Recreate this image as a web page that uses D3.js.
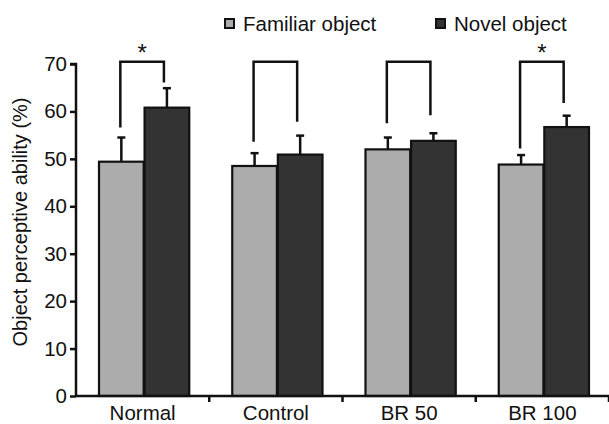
<!DOCTYPE html>
<html>
<head>
<meta charset="utf-8">
<script src="https://cdn.jsdelivr.net/npm/d3@7"></script>
<style>
  body { margin: 0; background: #fff; }
  text { font-family: "Liberation Sans", Arial, sans-serif; fill: #111; }
</style>
</head>
<body>
<svg id="chart" width="609" height="424"></svg>
<script>
const groups = ["Normal", "Control", "BR 50", "BR 100"];
const seriesNames = ["Familiar object", "Novel object"];
const familiar = [49.4, 48.5, 52.0, 48.8];
const familiarErr = [5.1, 2.7, 2.5, 2.0];
const novel = [60.8, 50.9, 53.8, 56.7];
const novelErr = [4.1, 4.0, 1.6, 2.4];
// bracket line ends (in %) and top, plus significance marks
const bracketLeft = [56.6, 53.6, 57.5, 52.2];
const bracketRight = [66.1, 57.8, 59.2, 61.8];
const bracketTop = 70.5;
const significant = ["*", "", "", "*"];
const yTicks = [0, 10, 20, 30, 40, 50, 60, 70];

const colors = ["#acacac", "#333333"];
const fs = 20.5;

const svg = d3.select("#chart");
const margin = {top: 64, right: 0, bottom: 28, left: 76};
const width = +svg.attr("width") - margin.left - margin.right;
const height = +svg.attr("height") - margin.top - margin.bottom;
const g = svg.append("g").attr("transform", `translate(${margin.left}, ${margin.top})`);

const x0 = d3.scaleBand().domain(groups).range([0, width]).padding(0);
const x1 = d3.scaleBand().domain(seriesNames)
  .range([23, x0.bandwidth() - 20]).paddingInner(0.02);
const y = d3.scaleLinear().domain([0, 70]).range([height, 0]);

const rows = groups.map((grp, i) => ({
  grp: grp,
  vals: [
    {s: seriesNames[0], v: familiar[i], e: familiarErr[i]},
    {s: seriesNames[1], v: novel[i], e: novelErr[i]}
  ]
}));

// error bars (drawn first so the bars cover the lower half)
const cap = 4;
rows.forEach(r => {
  r.vals.forEach((d, j) => {
    const cx = x0(r.grp) + x1(d.s) + x1.bandwidth() / 2;
    g.append("line")
      .attr("x1", cx).attr("x2", cx)
      .attr("y1", y(d.v)).attr("y2", y(d.v + d.e))
      .attr("stroke", "#111").attr("stroke-width", 2.5);
    g.append("line")
      .attr("x1", cx - cap).attr("x2", cx + cap)
      .attr("y1", y(d.v + d.e)).attr("y2", y(d.v + d.e))
      .attr("stroke", "#111").attr("stroke-width", 2.5);
  });
});

// bars
g.selectAll(".grp")
  .data(rows)
  .join("g")
  .attr("transform", d => `translate(${x0(d.grp)},0)`)
  .selectAll("rect")
  .data(d => d.vals)
  .join("rect")
  .attr("x", d => x1(d.s))
  .attr("y", d => y(d.v))
  .attr("width", x1.bandwidth())
  .attr("height", d => y(0) - y(d.v))
  .attr("fill", (d, j) => colors[j])
  .attr("stroke", "#111")
  .attr("stroke-width", 2.2);

// significance brackets
groups.forEach((grp, i) => {
  const lx = x0(grp) + x1(seriesNames[0]) + x1.bandwidth() / 2 - 1;
  const rx = x0(grp) + x1(seriesNames[1]) + x1.bandwidth() / 2 - 3;
  g.append("path")
    .attr("d", `M${lx},${y(bracketLeft[i])}V${y(bracketTop)}H${rx}V${y(bracketRight[i])}`)
    .attr("fill", "none")
    .attr("stroke", "#111")
    .attr("stroke-width", 2.5);
  if (significant[i]) {
    g.append("text")
      .attr("x", (lx + rx) / 2)
      .attr("y", y(bracketTop) - 1)
      .attr("text-anchor", "middle")
      .attr("font-size", 24)
      .text(significant[i]);
  }
});

// y axis
const yAxis = g.append("g")
  .call(d3.axisLeft(y).tickValues(yTicks).tickSize(6).tickPadding(3));
yAxis.select(".domain").attr("stroke", "#111").attr("stroke-width", 2.5)
  .attr("d", `M-6,${y(70)}H0V${y(0)}`);
yAxis.selectAll(".tick line").attr("stroke", "#111").attr("stroke-width", 2.5);
yAxis.selectAll(".tick text").attr("font-size", fs).attr("fill", "#111")
  .attr("font-family", "Liberation Sans, Arial, sans-serif");

// x axis
const xAxis = g.append("g")
  .attr("transform", `translate(0, ${height})`)
  .call(d3.axisBottom(x0).tickSize(0).tickPadding(9));
xAxis.select(".domain").attr("stroke", "#111").attr("stroke-width", 2.5)
  .attr("d", `M0,0H${width}`);
xAxis.selectAll(".tick text").attr("font-size", fs).attr("fill", "#111")
  .attr("font-family", "Liberation Sans, Arial, sans-serif");
xAxis.selectAll(".sep")
  .data(groups)
  .join("line")
  .attr("class", "sep")
  .attr("x1", d => x0(d) + x0.bandwidth()).attr("x2", d => x0(d) + x0.bandwidth())
  .attr("y1", 0).attr("y2", 6)
  .attr("stroke", "#111").attr("stroke-width", 2.5);

// y label
svg.append("text")
  .attr("transform", `translate(27, 222) rotate(-90)`)
  .attr("text-anchor", "middle")
  .attr("font-size", 20)
  .text("Object perceptive ability (%)");

// legend
const legendX = [224, 435];
seriesNames.forEach((name, j) => {
  svg.append("rect")
    .attr("x", legendX[j] + 1).attr("y", 19)
    .attr("width", 9).attr("height", 9)
    .attr("fill", colors[j])
    .attr("stroke", "#111").attr("stroke-width", 2);
  svg.append("text")
    .attr("x", legendX[j] + 19).attr("y", 31)
    .attr("font-size", fs)
    .text(name);
});
</script>
</body>
</html>
